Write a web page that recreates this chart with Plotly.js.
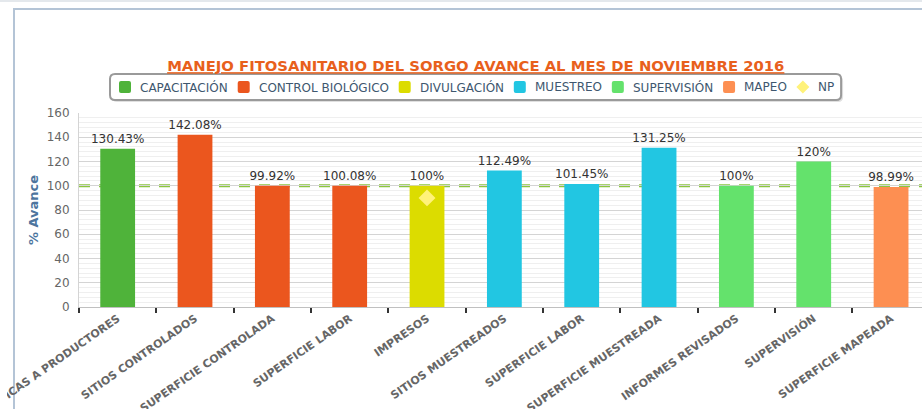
<!DOCTYPE html>
<html>
<head>
<meta charset="utf-8">
<script src="https://cdn.plot.ly/plotly-3.0.1.min.js"></script>
<style>
html,body{margin:0;padding:0;width:922px;height:409px;overflow:hidden;background:#fff;}
#band{position:absolute;left:0;top:0;width:922px;height:2px;background:#e4e8ec;}
#frame{position:absolute;left:13px;top:8px;width:920px;height:410px;border-left:2px solid #b4c4d6;border-top:2px solid #b4c4d6;}
#chart{position:absolute;left:0;top:0;width:922px;height:409px;}
#clip{position:absolute;left:0;top:300px;width:7px;height:109px;background:#fff;}
</style>
</head>
<body>
<div id="band"></div>
<div id="frame"></div>
<div id="chart"></div>
<div id="clip"></div>
<script>
// ---- data ----
var labels = ["PLÁTICAS A PRODUCTORES","SITIOS CONTROLADOS","SUPERFICIE CONTROLADA","SUPERFICIE LABOR","IMPRESOS","SITIOS MUESTREADOS","SUPERFICIE LABOR","SUPERFICIE MUESTREADA","INFORMES REVISADOS","SUPERVISIÓN","SUPERFICIE MAPEADA"];
var values = [130.43, 142.08, 99.92, 100.08, 100, 112.49, 101.45, 131.25, 100, 120, 98.99];
var groups = ["CAPACITACIÓN","CONTROL BIOLÓGICO","CONTROL BIOLÓGICO","CONTROL BIOLÓGICO","DIVULGACIÓN","MUESTREO","MUESTREO","MUESTREO","SUPERVISIÓN","SUPERVISIÓN","MAPEO"];
var seriesNames = ["CAPACITACIÓN","CONTROL BIOLÓGICO","DIVULGACIÓN","MUESTREO","SUPERVISIÓN","MAPEO"];
var seriesColors = ["#4fb33a","#eb561e","#dcdc00","#22c6e2","#64e26c","#fd8f52"];
var npName = "NP";
var npColor = "#fff27a";
var npCategory = [4];
var npValue = [90];
var goal = 100;

// ---- geometry helpers (plot area in pixels) ----
var W = 922, H = 409, ML = 79, MR = 0, MT = 113, MB = 102;
var PW = W - ML - MR, PH = H - MT - MB;
function px(x){ return (x - ML) / PW; }
function py(y){ return (H - MB - y) / PH; }

var traces = [];
seriesNames.forEach(function(name, s){
  var xs=[], ys=[], ts=[];
  groups.forEach(function(g,i){ if(g===name){ xs.push(i); ys.push(values[i]); ts.push(values[i]+'%'); } });
  traces.push({
    type:'bar', name:name, x:xs, y:ys, text:ts, textposition:'outside', constraintext:'none',
    textfont:{family:'DejaVu Sans', size:12, color:'#333'},
    width:0.45, marker:{color:seriesColors[s]}, cliponaxis:false, showlegend:false
  });
});
traces.push({
  type:'scatter', mode:'markers', name:npName, x:npCategory, y:npValue,
  marker:{symbol:'diamond', size:13, color:npColor}, cliponaxis:false, showlegend:false
});

var idx = labels.map(function(_,i){return i;});
var bounds = labels.map(function(_,i){return i-0.5;}).concat([labels.length-0.5]);

// ---- manual legend ----
var ctx = document.createElement('canvas').getContext('2d');
ctx.font = '12px "DejaVu Sans"';
var legNames = seriesNames.concat([npName]);
var legColors = seriesColors.concat([npColor]);
var shapes = [], annotations = [];
var sq = 12, gapIn = 7, gapOut = 12, cy = 87;
var xs0 = 119, cur = xs0;
var items = [];
legNames.forEach(function(n,i){
  var w = ctx.measureText(n).width;
  items.push({n:n, sx:cur, tx:cur+sq+gapIn, w:w, c:legColors[i], diamond:(i===legNames.length-1)});
  cur = cur + sq + gapIn + w + gapOut;
});
var boxL = xs0 - 9, boxR = cur - gapOut + 9, boxT = 74, boxB = 100, r = 5;
function roundRect(l,t,rr,b,rad){
  return 'M'+px(l+rad)+','+py(t)+' L'+px(rr-rad)+','+py(t)+' Q'+px(rr)+','+py(t)+' '+px(rr)+','+py(t+rad)+
    ' L'+px(rr)+','+py(b-rad)+' Q'+px(rr)+','+py(b)+' '+px(rr-rad)+','+py(b)+
    ' L'+px(l+rad)+','+py(b)+' Q'+px(l)+','+py(b)+' '+px(l)+','+py(b-rad)+
    ' L'+px(l)+','+py(t+rad)+' Q'+px(l)+','+py(t)+' '+px(l+rad)+','+py(t)+' Z';
}
shapes.push({type:'path', xref:'paper', yref:'paper', path:roundRect(boxL+2,boxT+2,boxR+2,boxB+2,r), fillcolor:'rgba(0,0,0,0.12)', line:{width:0}});
shapes.push({type:'path', xref:'paper', yref:'paper', path:roundRect(boxL,boxT,boxR,boxB,r), fillcolor:'#ffffff', line:{color:'#9a9a9a', width:2}});
items.forEach(function(it){
  if(it.diamond){
    var cx = it.sx + sq/2, h = 6.5;
    shapes.push({type:'path', xref:'paper', yref:'paper',
      path:'M'+px(cx)+','+py(cy-h)+' L'+px(cx+h)+','+py(cy)+' L'+px(cx)+','+py(cy+h)+' L'+px(cx-h)+','+py(cy)+' Z',
      fillcolor:it.c, line:{width:0}});
  } else {
    shapes.push({type:'path', xref:'paper', yref:'paper', path:roundRect(it.sx, cy-sq/2, it.sx+sq, cy+sq/2, 2),
      fillcolor:it.c, line:{width:0}});
  }
  annotations.push({xref:'paper', yref:'paper', x:px(it.tx), y:py(cy), xanchor:'left', yanchor:'middle',
    text:it.n, showarrow:false, font:{family:'DejaVu Sans', size:12, color:'#3e576f'}});
});
shapes.push({type:'line', xref:'paper', x0:0, x1:1, yref:'y', y0:goal, y1:goal, layer:'below',
  line:{color:'#8cc63f', width:3, dash:'11px,9px'}});

var layout = {
  width:W, height:H,
  margin:{l:ML, r:MR, t:MT, b:MB},
  paper_bgcolor:'rgba(0,0,0,0)', plot_bgcolor:'rgba(0,0,0,0)',
  barmode:'overlay', showlegend:false,
  title:{text:'<b><u>MANEJO FITOSANITARIO DEL SORGO AVANCE AL MES DE NOVIEMBRE 2016</u></b>',
    font:{family:'DejaVu Sans', size:14.8, color:'#e8601c'},
    x:0.516, xref:'container', xanchor:'center', y:1-66/409, yref:'container', yanchor:'middle'},
  xaxis:{range:[-0.5, 10.4], tickmode:'array', tickvals:idx, ticktext:labels,
    ticks:'', ticklen:0, tickangle:-35, showgrid:false, zeroline:false, ticklabeloverflow:'allow',
    showline:true, linecolor:'#c0c0c0', linewidth:1,
    tickfont:{family:'DejaVu Sans', size:11, color:'#666', weight:'bold'},
    minor:{tickmode:'array', tickvals:bounds, ticks:'outside', ticklen:5, tickwidth:2, tickcolor:'#333', showgrid:false}},
  yaxis:{range:[0,160], dtick:20, tick0:0, ticks:'', showline:true, linecolor:'#d4d4d4',
    gridcolor:'#d4d4d4', zeroline:false, ticklabelstandoff:6,
    tickfont:{family:'DejaVu Sans', size:12, color:'#666'},
    minor:{dtick:4, showgrid:true, gridcolor:'#efefef'},
    title:{text:'% Avance', font:{family:'DejaVu Sans', size:13, color:'#4d759e', weight:'bold'}, standoff:5}},
  shapes:shapes, annotations:annotations
};

Plotly.newPlot('chart', traces, layout, {displayModeBar:false, staticPlot:true});
</script>
</body>
</html>
